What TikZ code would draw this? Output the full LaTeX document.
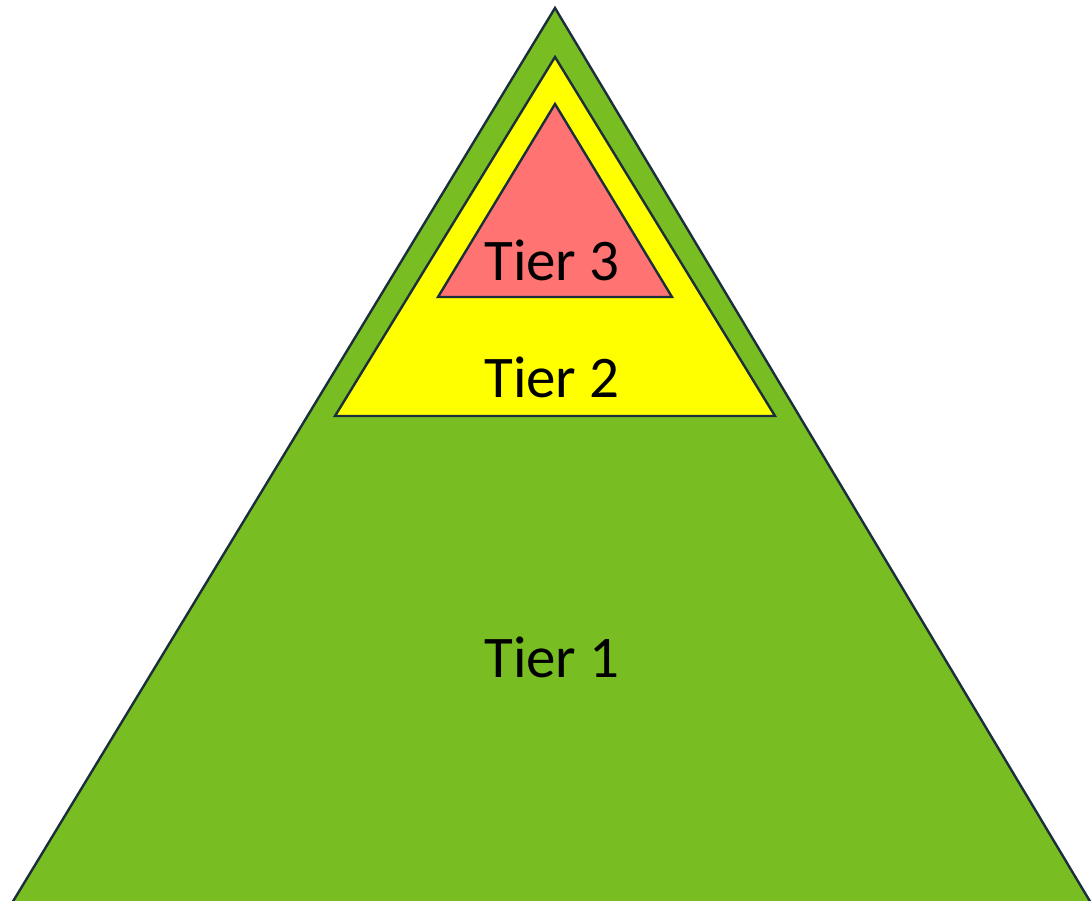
\documentclass[tikz,border=0pt]{standalone}
\usepackage{fontspec}
\setmainfont{Carlito}
\definecolor{tiergreen}{HTML}{78BE22}
\definecolor{tieryellow}{HTML}{FFFF00}
\definecolor{tierred}{HTML}{FF7373}
\definecolor{tieredge}{HTML}{1C2E3C}
\tikzset{
  tierface/.style={draw=tieredge, line width=1.2pt, line join=miter},
  tierlabel/.style={anchor=base, inner sep=0pt, font=\fontsize{29.5}{35}\selectfont}
}
\begin{document}
\begin{tikzpicture}[x=0.5pt,y=-0.5pt]
\useasboundingbox (0,0) rectangle (1092,900);
% pyramid, outside to inside
\draw[tierface, fill=tiergreen] (555,8) -- (1091,903) -- (12,903) -- cycle;
\draw[tierface, fill=tieryellow] (555,57) -- (775,416) -- (335,416) -- cycle;
\draw[tierface, fill=tierred] (555,104) -- (672,297) -- (438,297) -- cycle;
% labels
\node[tierlabel] (tierthree) at (552,280) {Tier 3};
\node[tierlabel] (tiertwo) at (552,397) {Tier 2};
\node[tierlabel] (tierone) at (552,677) {Tier 1};
\end{tikzpicture}
\end{document}
